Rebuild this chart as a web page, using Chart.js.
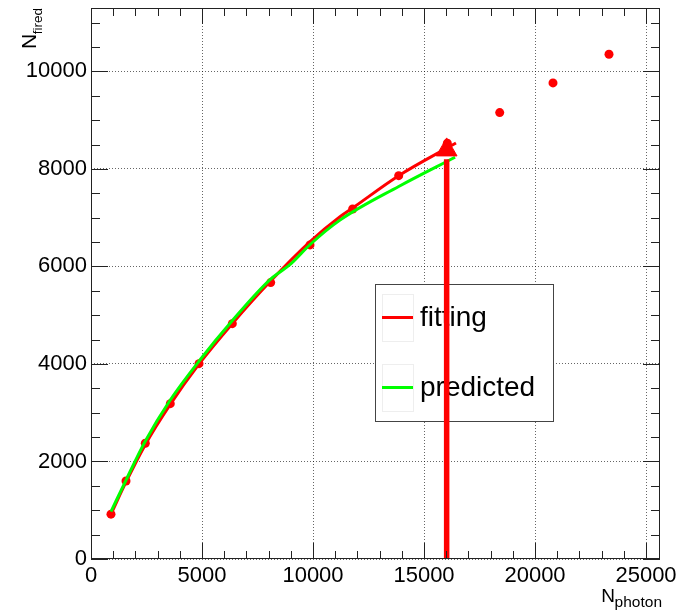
<!DOCTYPE html>
<html>
<head>
<meta charset="utf-8">
<script src="https://cdn.jsdelivr.net/npm/chart.js@4/dist/chart.umd.min.js"></script>
<style>
  html, body { margin: 0; padding: 0; background: #ffffff; }
  #wrap { width: 679px; height: 611px; }
</style>
</head>
<body>
<div id="wrap"><canvas id="c" width="679" height="611"></canvas></div>
<script>
// ---- data ----
const photonPts = [900, 1577, 2446, 3572, 4865, 6365, 8094, 9865, 11786, 13860, 16050, 18410, 20810, 23333];
const firedPts  = [920, 1600, 2373, 3186, 4006, 4827, 5668, 6441, 7179, 7862, 8527, 9155, 9764, 10352];

const fitX  = [900, 1580, 2450, 3570, 4870, 6370, 8090, 9870, 11216, 11790, 13860, 16440];
const fitY  = [920, 1580, 2350, 3170, 4000, 4830, 5700, 6510, 7020, 7200, 7860, 8530];

const predX = [900, 1600, 2450, 3570, 4870, 6370, 8090, 9000, 9870, 11216, 13860, 16400];
const predY = [970, 1640, 2420, 3260, 4060, 4890, 5740, 6050, 6450, 6950, 7640, 8240];

const arrowX = [16020, 16020];
const arrowY = [0, 8200];
const arrowHead = { x: 16020, y: 8390 };

const xTickValues = [0, 5000, 10000, 15000, 20000, 25000];
const yTickValues = [0, 2000, 4000, 6000, 8000, 10000];
const legendLabels = ['fitting', 'predicted'];
const xTitle = ['N', 'photon'];
const yTitle = ['N', 'fired'];

const X_MIN = 0, X_MAX = 25630, Y_MIN = 0, Y_MAX = 11300;
const RED = '#ff0000', GREEN = '#00ff00';
const FONT = '"Liberation Sans", Arial, Helvetica, sans-serif';

function zip(xs, ys) { return xs.map((x, i) => ({ x: x, y: ys[i] })); }

// ---- plugin: ROOT-like frame, inward ticks, titles, legend ----
const rootStyle = {
  id: 'rootStyle',
  beforeDatasetsDraw(chart) {
    const ctx = chart.ctx;
    const lx0 = 375.5, ly0 = 284.5, lx1 = 553.5, ly1 = 421.5;
    ctx.save();
    ctx.fillStyle = '#ffffff';
    ctx.fillRect(lx0, ly0, lx1 - lx0, ly1 - ly0);
    ctx.strokeStyle = '#444';
    ctx.lineWidth = 1;
    ctx.strokeRect(lx0, ly0, lx1 - lx0, ly1 - ly0);
    const colors = [RED, GREEN];
    const rows = [317.5, 387.5];
    for (let i = 0; i < 2; i++) {
      ctx.strokeStyle = '#eeeeee';
      ctx.lineWidth = 1;
      ctx.strokeRect(382.5, rows[i] - 23, 31, 47);
      ctx.strokeStyle = colors[i];
      ctx.lineWidth = 3;
      ctx.beginPath();
      ctx.moveTo(382, rows[i]);
      ctx.lineTo(413, rows[i]);
      ctx.stroke();
      ctx.fillStyle = '#000';
      ctx.font = '28px ' + FONT;
      ctx.textAlign = 'left';
      ctx.textBaseline = 'middle';
      ctx.fillText(legendLabels[i], 420, rows[i] + 1);
    }
    ctx.restore();
  },
  afterDraw(chart) {
    const ctx = chart.ctx;
    const a = chart.chartArea;
    const xs = chart.scales.x, ys = chart.scales.y;
    ctx.save();
    ctx.strokeStyle = '#222';
    ctx.lineWidth = 1;
    ctx.strokeRect(Math.round(a.left) + 0.5, Math.round(a.top) + 0.5,
                   Math.round(a.right - a.left) - 1, Math.round(a.bottom - a.top) - 1);
    ctx.beginPath();
    for (let v = 0; v <= X_MAX; v += 1000) {
      const px = Math.round(xs.getPixelForValue(v)) + 0.5;
      const len = (v % 5000 === 0) ? 16 : 8;
      ctx.moveTo(px, a.bottom); ctx.lineTo(px, a.bottom - len);
      ctx.moveTo(px, a.top); ctx.lineTo(px, a.top + len);
    }
    for (let v = 0; v <= Y_MAX; v += 500) {
      const py = Math.round(ys.getPixelForValue(v)) + 0.5;
      const len = (v % 2000 === 0) ? 17 : 9;
      ctx.moveTo(a.left, py); ctx.lineTo(a.left + len, py);
      ctx.moveTo(a.right, py); ctx.lineTo(a.right - len, py);
    }
    ctx.stroke();

    ctx.fillStyle = '#000';
    ctx.textBaseline = 'alphabetic';
    ctx.font = '15.5px ' + FONT;
    const subW = ctx.measureText(xTitle[1]).width;
    ctx.textAlign = 'left';
    const subX = 662 - subW;
    ctx.fillText(xTitle[1], subX, 606.5);
    ctx.font = '19px ' + FONT;
    const nW = ctx.measureText(xTitle[0]).width;
    ctx.fillText(xTitle[0], subX - nW + 0.5, 601.5);

    ctx.translate(36, 0);
    ctx.rotate(-Math.PI / 2);
    ctx.font = '13.5px ' + FONT;
    const sW = ctx.measureText(yTitle[1]).width;
    const endY = -8;
    ctx.fillText(yTitle[1], endY - sW, 6);
    ctx.font = '21px ' + FONT;
    const nW2 = ctx.measureText(yTitle[0]).width;
    ctx.fillText(yTitle[0], endY - sW - nW2 + 0.5, 0);
    ctx.restore();
  }
};

const cfg = {
  type: 'scatter',
  data: {
    datasets: [
      {
        label: 'arrow',
        data: zip(arrowX, arrowY),
        showLine: true,
        borderColor: RED,
        borderWidth: 5.5,
        pointRadius: 0,
        order: 1
      },
      {
        label: 'arrowHead',
        data: [arrowHead],
        pointStyle: 'triangle',
        pointRadius: 12,
        backgroundColor: RED,
        borderColor: RED,
        borderWidth: 1,
        order: 0
      },
      {
        label: 'fitting',
        data: zip(fitX, fitY),
        showLine: true,
        borderColor: RED,
        borderWidth: 3,
        pointRadius: 0,
        cubicInterpolationMode: 'monotone',
        order: 3
      },
      {
        label: 'predicted',
        data: zip(predX, predY),
        showLine: true,
        borderColor: GREEN,
        borderWidth: 3,
        pointRadius: 0,
        cubicInterpolationMode: 'monotone',
        order: 2
      },
      {
        label: 'data',
        data: zip(photonPts, firedPts),
        pointRadius: 4.5,
        pointStyle: 'circle',
        backgroundColor: RED,
        borderColor: RED,
        borderWidth: 0,
        order: 4
      }
    ]
  },
  options: {
    responsive: false,
    animation: false,
    events: [],
    layout: { autoPadding: false, padding: { top: 8, right: 19, left: 0, bottom: 0 } },
    plugins: { legend: { display: false }, tooltip: { enabled: false }, title: { display: false } },
    scales: {
      x: {
        type: 'linear',
        min: X_MIN, max: X_MAX,
        afterFit(s) { s.height = 52; s.paddingLeft = 0; s.paddingRight = 0; },
        afterBuildTicks(s) { s.ticks = xTickValues.map(v => ({ value: v })); },
        ticks: {
          includeBounds: false,
          color: '#000',
          font: { family: FONT, size: 22 },
          padding: 4,
          maxRotation: 0,
          autoSkip: false,
          callback: (v) => String(v)
        },
        grid: { color: 'rgba(0,0,0,0.6)', lineWidth: 1, drawTicks: false },
        border: { display: false, dash: [1, 2] }
      },
      y: {
        type: 'linear',
        min: Y_MIN, max: Y_MAX,
        afterFit(s) { s.width = 91; s.paddingTop = 0; s.paddingBottom = 0; },
        afterBuildTicks(s) { s.ticks = yTickValues.map(v => ({ value: v })); },
        ticks: {
          includeBounds: false,
          color: '#000',
          font: { family: FONT, size: 22 },
          padding: 4,
          autoSkip: false,
          callback: (v) => String(v)
        },
        grid: { color: 'rgba(0,0,0,0.6)', lineWidth: 1, drawTicks: false },
        border: { display: false, dash: [1, 2] }
      }
    }
  },
  plugins: [rootStyle]
};

new Chart(document.getElementById('c'), cfg);
</script>
</body>
</html>
